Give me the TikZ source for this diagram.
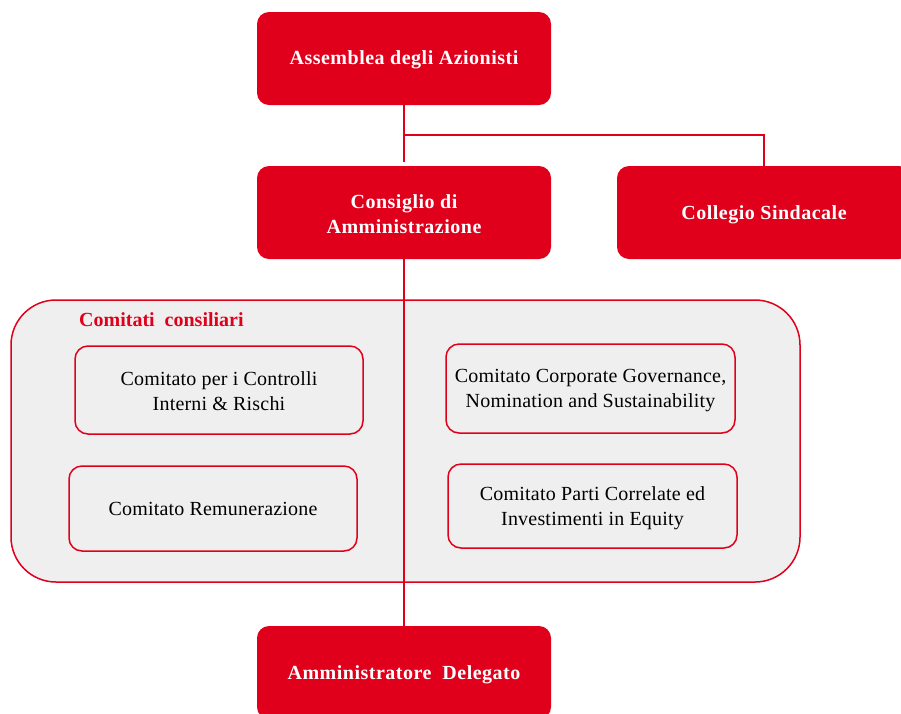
\documentclass[tikz,border=0pt]{standalone}
\usepackage{fontspec}
\setmainfont{Liberation Serif}
\definecolor{cred}{RGB}{224,0,27}
\definecolor{cgray}{RGB}{239,239,239}
\begin{document}
\begin{tikzpicture}[x=1pt,y=-1pt,
  redbox/.style={rectangle, rounded corners=12pt, fill=cred, draw=none,
    minimum width=294pt, minimum height=93pt, inner sep=0pt},
  redtext/.style={text=white, font=\fontsize{20}{25}\selectfont\bfseries\addfontfeatures{LetterSpace=2.5},
    align=center, inner sep=0pt},
  combox/.style={rectangle, rounded corners=13pt, draw=cred, line width=1.5pt, fill=cgray,
    inner sep=0pt},
  comtext/.style={font=\fontsize{20}{25}\selectfont\addfontfeatures{LetterSpace=1},
    align=center, inner sep=0pt, text=black},
  grpbox/.style={rectangle, rounded corners=45pt, draw=cred, line width=1.5pt, fill=cgray,
    inner sep=0pt},
  heading/.style={text=cred, font=\fontsize{20}{24}\selectfont\bfseries, inner sep=0pt},
  conn/.style={draw=cred, line width=1.5pt}]
\useasboundingbox (0,0) rectangle (901,713);
\fill[white] (0,0) rectangle (901,713);
% group box
\node[grpbox, minimum width=789pt, minimum height=282pt] (grp) at (405.5,441) {};
\node[heading, anchor=west] (hd) at (79,320) {Comitati\ \ consiliari};
% committees
\node[combox, minimum width=288pt, minimum height=88pt] (c1) at (219,390) {};
\node[comtext] (t1) at ([yshift=-1.5pt]c1.center) {Comitato\ per i Controlli\\Interni \& Rischi};
\node[combox, minimum width=288pt, minimum height=85pt] (c2) at (213,508.5) {};
\node[comtext] (t2) at (c2.center) {Comitato\ Remunerazione};
\node[combox, minimum width=289pt, minimum height=89pt] (c3) at (590.5,388.5) {};
\node[comtext] (t3) at ([yshift=-2.5pt]c3.center) {Comitato\ Corporate Governance,\\Nomination\ and Sustainability};
\node[combox, minimum width=289pt, minimum height=84pt] (c4) at (592.5,506) {};
\node[comtext] (t4) at ([yshift=-2.5pt]c4.center) {Comitato\ Parti Correlate\ ed\\Investimenti in Equity};
% red boxes
\node[redbox] (ass) at (404,58.5) {};
\node[redtext] (ta) at ([yshift=-1.5pt]ass.center) {Assemblea degli Azionisti};
\node[redbox] (cda) at (404,212.5) {};
\node[redtext] (tc) at ([yshift=-2pt]cda.center) {Consiglio di\\Amministrazione};
\node[redbox] (col) at (764,212.5) {};
\node[redtext] (tcol) at ([yshift=-2.5pt]col.center) {Collegio Sindacale};
\node[redbox] (ad) at (404,672.5) {};
\node[redtext] (tad) at ([yshift=-2pt]ad.center) {Amministratore\ \ Delegato};
% connectors
\coordinate (j) at (ass.south |- 0,135);
\draw[conn] (ass.south) -- ([yshift=4pt]cda.north);
\draw[conn] (j) -| (col.north);
\draw[conn] (cda.south) -- (ad.north);
\end{tikzpicture}
\end{document}
